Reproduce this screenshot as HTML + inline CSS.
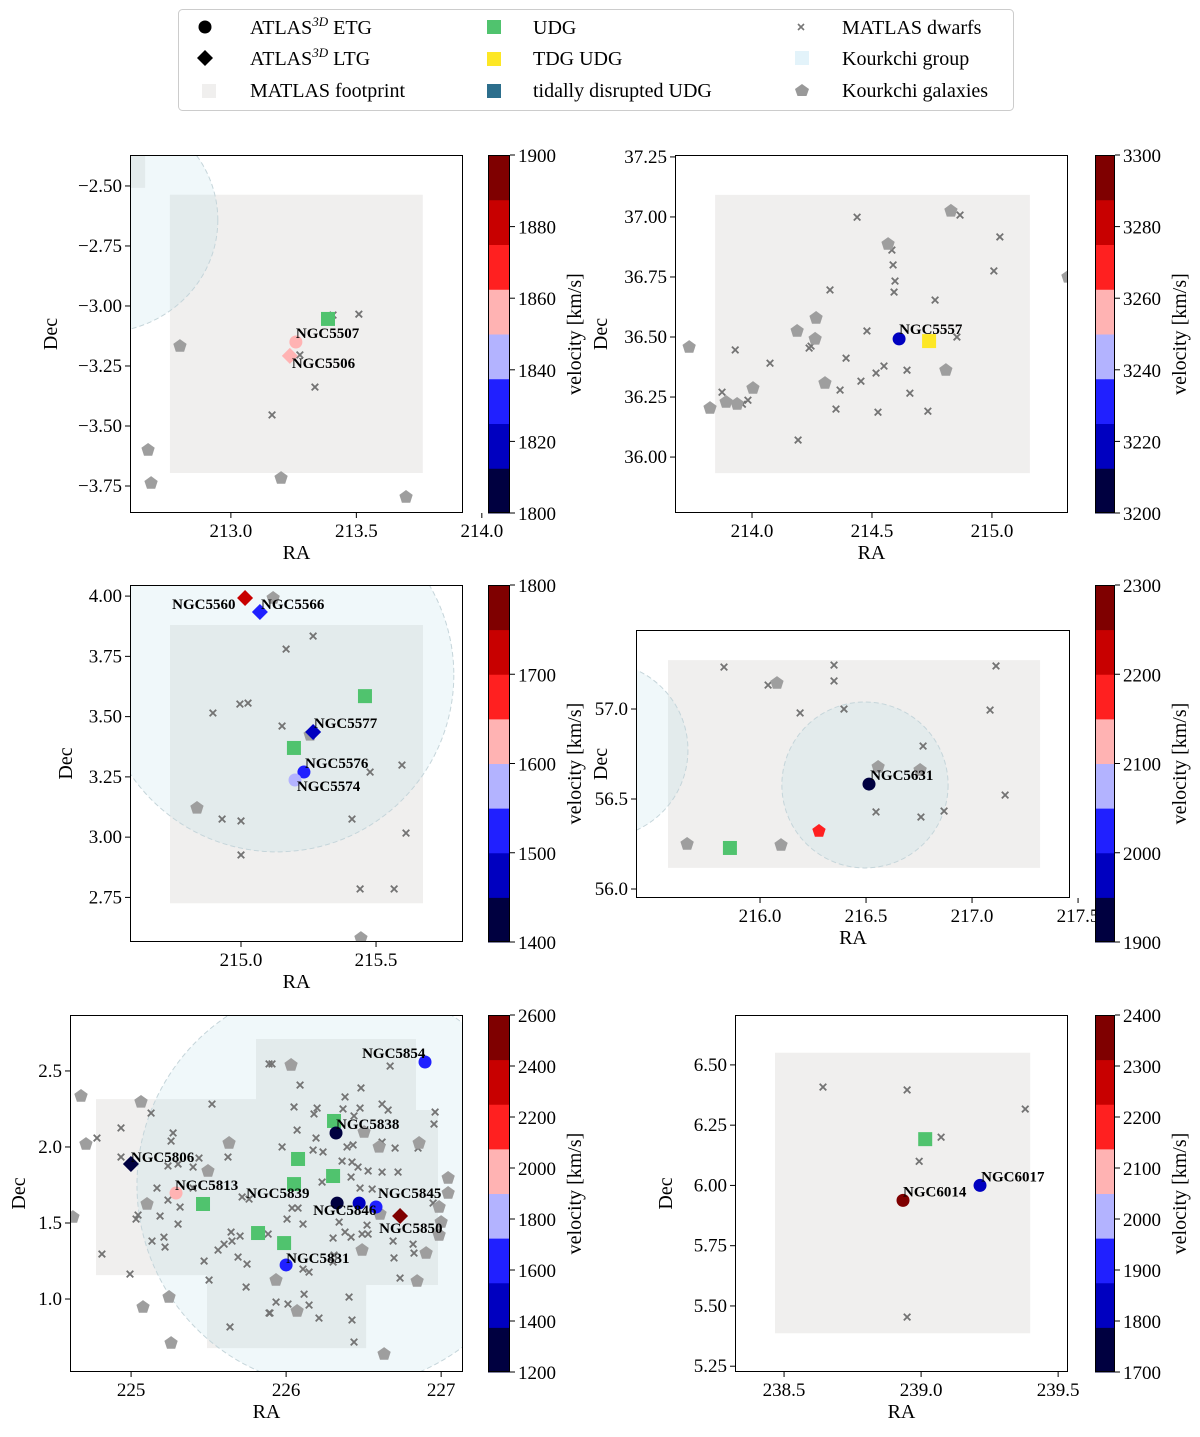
<!DOCTYPE html>
<html><head><meta charset="utf-8">
<style>
html,body{margin:0;padding:0;background:#fff;}
svg{display:block;font-family:"Liberation Serif",serif;}
</style></head>
<body>
<svg id="fig" width="1200" height="1437" viewBox="0 0 1200 1437" xmlns="http://www.w3.org/2000/svg">
<g id="legend">
<rect x="178.5" y="9.5" width="835" height="101" rx="4" fill="#fff" stroke="#ccc"/>
<g><circle cx="205" cy="27" r="6.5" fill="#000"/><text x="250" y="34" font-size="20">ATLAS<tspan font-size="13" dy="-8" font-style="italic">3D</tspan><tspan dy="8"> ETG</tspan></text></g>
<g><path d="M205 50 L213 58 L205 66 L197 58Z" fill="#000"/><text x="250" y="65" font-size="20">ATLAS<tspan font-size="13" dy="-8" font-style="italic">3D</tspan><tspan dy="8"> LTG</tspan></text></g>
<g><rect x="202" y="84" width="14" height="14" fill="#f0efee"/><text x="250" y="97" font-size="20">MATLAS footprint</text></g>
<g><rect x="487" y="20" width="14" height="14" fill="#50c36e"/><text x="533" y="34" font-size="20">UDG</text></g>
<g><rect x="487" y="52" width="14" height="14" fill="#fde725"/><text x="533" y="65" font-size="20">TDG UDG</text></g>
<g><rect x="487" y="84" width="14" height="14" fill="#2c6e8c"/><text x="533" y="97" font-size="20">tidally disrupted UDG</text></g>
<g><path d="M798 24L804 30M798 30L804 24" stroke="#777" stroke-width="1.6"/><text x="842" y="34" font-size="20">MATLAS dwarfs</text></g>
<g><rect x="795" y="51" width="14" height="14" fill="#e3f3fa"/><text x="842" y="65" font-size="20">Kourkchi group</text></g>
<g><path d="M802 84 L809 89 L806.5 96 L797.5 96 L795 89Z" fill="#999"/><text x="842" y="97" font-size="20">Kourkchi galaxies</text></g>
</g>
</svg>
<script>
// ---------- DATA ----------
// Panel 1 (NGC5507 / NGC5506)
const p1Dwarfs=[[213.407,-3.038],[213.510,-3.034],[213.275,-3.204],[213.335,-3.338],[213.164,-3.454]];
const p1Kourkchi=[[212.797,-3.167],[212.670,-3.600],[212.682,-3.738],[213.200,-3.717],[213.698,-3.796]];
const p1UDG=[[213.387,-3.054]];
const p1TDG=[];
const p1ETG=[[213.259,-3.150,1855]];
const p1LTG=[[213.235,-3.208,1855]];
const p1Labels=[["NGC5507",213.259,-3.133],["NGC5506",213.243,-3.258]];
// Panel 2 (NGC5557)
const p2Dwarfs=[[213.875,36.270],[213.93,36.446],[213.96,36.22],[213.983,36.237],[214.075,36.391],[214.238,36.454],[214.325,36.696],[214.35,36.2],[214.367,36.279],[214.392,36.412],[214.438,36.999],[214.454,36.316],[214.517,36.35],[214.525,36.187],[214.55,36.379],[214.583,36.862],[214.588,36.8],[214.596,36.733],[214.592,36.687],[214.479,36.525],[214.646,36.362],[214.658,36.266],[214.733,36.191],[214.763,36.654],[214.854,36.5],[214.867,37.008],[215.008,36.775],[215.033,36.917],[214.192,36.071],[214.246,36.462]];
const p2Kourkchi=[[213.738,36.458],[213.825,36.204],[213.892,36.229],[213.938,36.221],[214.004,36.287],[214.188,36.525],[214.267,36.579],[214.263,36.492],[214.304,36.308],[214.567,36.887],[214.808,36.362],[214.829,37.025],[215.317,36.75]];
const p2UDG=[];
const p2TDG=[[214.738,36.483]];
const p2ETG=[[214.613,36.492,3220]];
const p2LTG=[];
const p2Labels=[["NGC5557",214.613,36.512]];
// Panel 3 (NGC5574/5576/5577)
const p3Dwarfs=[[215.267,3.834],[215.167,3.780],[214.996,3.552],[215.026,3.556],[214.896,3.515],[215.152,3.461],[215.596,3.299],[215.478,3.270],[214.930,3.075],[215.000,3.067],[215.411,3.075],[215.611,3.017],[215.000,2.926],[215.441,2.785],[215.567,2.785]];
const p3Kourkchi=[[214.837,3.121],[215.444,2.581],[215.119,3.992],[215.256,3.424]];
const p3UDG=[[215.459,3.585],[215.196,3.370]];
const p3TDG=[];
const p3ETG=[[215.233,3.270,1520],[215.2,3.237,1570]];
const p3LTG=[[215.015,3.992,1720],[215.070,3.934,1520],[215.267,3.436,1470]];
const p3Labels=[["NGC5560",214.745,3.946],["NGC5566",215.074,3.946],["NGC5577",215.270,3.453],["NGC5576",215.237,3.287],["NGC5574",215.207,3.191]];
// Panel 4 (NGC5631)
const p4Dwarfs=[[215.830,57.233],[216.038,57.133],[216.189,56.978],[216.349,57.244],[216.349,57.156],[216.396,57.0],[216.547,56.428],[216.769,56.794],[216.759,56.4],[216.868,56.433],[217.085,56.994],[217.113,57.239],[217.156,56.522]];
const p4Kourkchi=[[215.656,56.25],[216.08,57.144],[216.099,56.244],[216.557,56.678],[216.755,56.661]];
const p4KourkchiVel=[[216.278,56.322,2180]];
const p4UDG=[[215.858,56.228]];
const p4TDG=[];
const p4ETG=[[216.514,56.583,1910]];
const p4LTG=[];
const p4Labels=[["NGC5631",216.519,56.606]];
// Panel 5 (NGC5846 group)
const p5Dwarfs=[[225.522,2.282],[225.129,2.223],[224.935,2.125],[224.780,2.059],[225.271,2.092],[225.258,2.039],[224.935,1.934],[225.238,1.875],[225.303,1.888],[225.400,1.868],[225.438,1.927],[225.625,1.934],[225.167,1.730],[225.238,1.651],[225.316,1.605],[225.045,1.552],[225.032,1.526],[225.187,1.546],[225.303,1.493],[225.212,1.407],[225.219,1.342],[225.135,1.381],[224.812,1.296],[224.993,1.164],[225.471,1.250],[225.503,1.125],[225.561,1.322],[225.600,1.361],[225.651,1.381],[225.645,1.440],[225.703,1.414],[225.690,1.276],[225.748,1.230],[225.742,1.079],[225.638,0.816],[225.716,1.671],[225.761,1.657],[225.400,1.730],[225.884,1.427],[225.890,0.908],[225.890,2.546],[225.909,2.546],[226.671,2.532],[226.090,2.407],[226.483,2.388],[226.380,2.329],[226.051,2.263],[226.200,2.256],[226.367,2.250],[226.477,2.256],[226.619,2.282],[226.658,2.243],[226.180,2.217],[226.438,2.204],[226.961,2.230],[226.954,2.151],[226.071,2.111],[226.193,2.059],[225.974,2.000],[226.174,1.980],[226.238,1.967],[226.393,2.000],[226.432,2.013],[226.619,2.032],[226.703,1.993],[226.851,1.993],[226.361,1.907],[226.425,1.901],[226.464,1.868],[226.529,1.842],[226.619,1.835],[226.722,1.835],[226.419,1.802],[226.232,1.769],[226.477,1.730],[226.555,1.723],[226.948,1.631],[226.038,1.598],[226.077,1.598],[226.006,1.526],[226.109,1.493],[226.342,1.506],[226.380,1.440],[226.522,1.486],[226.490,1.427],[226.529,1.427],[226.419,1.407],[226.303,1.401],[226.690,1.381],[226.819,1.361],[226.825,1.302],[226.696,1.270],[226.109,1.197],[226.148,1.177],[226.303,1.243],[226.309,1.289],[226.735,1.138],[226.116,1.032],[225.935,0.980],[226.012,0.967],[226.148,0.960],[226.406,1.013],[225.896,0.908],[226.212,0.875],[226.425,0.862],[226.438,0.717]];
const p5Kourkchi=[[224.677,2.335],[225.064,2.296],[224.709,2.019],[225.632,2.026],[225.496,1.842],[225.103,1.625],[224.625,1.539],[225.245,1.013],[225.077,0.947],[225.258,0.710],[226.032,2.539],[226.503,2.098],[226.600,2.000],[226.858,2.026],[227.045,1.796],[227.045,1.697],[226.987,1.605],[227.000,1.506],[226.987,1.421],[226.903,1.302],[226.845,1.118],[226.490,1.322],[226.606,1.559],[225.935,1.125],[226.071,0.921],[226.632,0.638]];
const p5UDG=[[225.464,1.625],[225.819,1.434],[226.309,2.171],[226.077,1.921],[226.303,1.809],[226.051,1.756],[225.987,1.368]];
const p5TDG=[];
const p5ETG=[[225.290,1.697,1950],[226.896,2.559,1650],[226.322,2.092,1250],[226.329,1.631,1250],[226.471,1.631,1450],[226.580,1.605,1600],[226.000,1.224,1650]];
const p5LTG=[[224.999,1.888,1250],[226.735,1.546,2500]];
const p5Labels=[["NGC5806",224.999,1.901],["NGC5813",225.283,1.717],["NGC5839",225.742,1.664],["NGC5838",226.322,2.118],["NGC5854",226.490,2.585],["NGC5846",226.174,1.552],["NGC5845",226.593,1.664],["NGC5850",226.600,1.434],["NGC5831",226.0,1.237]];
// Panel 6 (NGC6014/6017)
const p6Dwarfs=[[238.642,6.408],[238.949,6.396],[239.073,6.2],[238.993,6.1],[239.380,6.317],[238.949,5.454]];
const p6Kourkchi=[];
const p6UDG=[[239.015,6.192]];
const p6TDG=[];
const p6ETG=[[238.934,5.938,2380],[239.215,6.0,1850]];
const p6LTG=[];
const p6Labels=[["NGC6014",238.934,5.954],["NGC6017",239.219,6.017]];
// Colorbar ranges and ticks
const p1VelRange=[1800,1900]; const p1VelTicks=[1800,1820,1840,1860,1880,1900];
const p2VelRange=[3200,3300]; const p2VelTicks=[3200,3220,3240,3260,3280,3300];
const p3VelRange=[1400,1800]; const p3VelTicks=[1400,1500,1600,1700,1800];
const p4VelRange=[1900,2300]; const p4VelTicks=[1900,2000,2100,2200,2300];
const p5VelRange=[1200,2600]; const p5VelTicks=[1200,1400,1600,1800,2000,2200,2400,2600];
const p6VelRange=[1700,2400]; const p6VelTicks=[1700,1800,1900,2000,2100,2200,2300,2400];
// Axis ranges and ticks
const p1RA=[212.598,213.925], p1Dec=[-3.8625,-2.371], p1RATicks=[213.0,213.5,214.0], p1DecTicks=[-2.5,-2.75,-3.0,-3.25,-3.5,-3.75];
const p2RA=[213.679,215.317], p2Dec=[35.767,37.258], p2RATicks=[214.0,214.5,215.0], p2DecTicks=[36.0,36.25,36.5,36.75,37.0,37.25];
const p3RA=[214.589,215.822], p3Dec=[2.565,4.046], p3RATicks=[215.0,215.5], p3DecTicks=[2.75,3.0,3.25,3.5,3.75,4.0];
const p4RA=[215.415,217.462], p4Dec=[55.950,57.439], p4RATicks=[216.0,216.5,217.0,217.5], p4DecTicks=[56.0,56.5,57.0];
const p5RA=[224.606,227.141], p5Dec=[0.520,2.868], p5RATicks=[225,226,227], p5DecTicks=[1.0,1.5,2.0,2.5];
const p6RA=[238.321,239.536], p6Dec=[5.226,6.707], p6RATicks=[238.5,239.0,239.5], p6DecTicks=[5.25,5.5,5.75,6.0,6.25,6.5];
// Footprints (polygons in RA/Dec) and groups [ra, dec, rRA, rDec]
const p1Foot=[[[212.757,-2.537],[213.765,-2.537],[213.765,-3.696],[212.757,-3.696]],[[212.5,-2.371],[212.658,-2.371],[212.658,-2.508],[212.5,-2.508]]];
const p1Group=[[212.478,-2.642,0.47,0.47]];
const p2Foot=[[[213.846,37.092],[215.158,37.092],[215.158,35.933],[213.846,35.933]]];
const p2Group=[];
const p3Foot=[[[214.737,3.880],[215.674,3.880],[215.674,2.726],[214.737,2.726]]];
const p3Group=[[215.133,3.673,0.655,0.734]];
const p4Foot=[[[215.566,57.272],[217.321,57.272],[217.321,56.117],[215.566,56.117]]];
const p4Group=[[216.495,56.578,0.392,0.461],[215.245,56.772,0.415,0.489]];
const p5Foot=[[[224.774,2.315],[225.806,2.315],[225.806,2.710],[226.838,2.710],[226.838,2.243],[226.980,2.243],[226.980,1.092],[226.516,1.092],[226.516,0.677],[225.490,0.677],[225.490,1.157],[224.774,1.157]]];
const p5Group=[[226.348,1.750,1.31,1.336]];
const p6Foot=[[[238.467,6.55],[239.398,6.55],[239.398,5.387],[238.467,5.387]]];
const p6Group=[];

// ---------- DRAWING ----------
const NS='http://www.w3.org/2000/svg';
const fig=document.getElementById('fig');
const BANDS=['#000040','#0000c0','#2020ff','#b3b3ff','#ffb3b3','#ff2020','#c80000','#7f0000'];
function mk(tag,attrs,parent){const e=document.createElementNS(NS,tag);for(const k in attrs)e.setAttribute(k,attrs[k]);(parent||fig).appendChild(e);return e;}
function velColor(v,r){let i=Math.floor((v-r[0])/(r[1]-r[0])*8);i=Math.max(0,Math.min(7,i));return BANDS[i];}
function fmt(v,d){const s=v.toFixed(d);return v<0?'\u2212'+s.slice(1):s;}
function pent(cx,cy,r){let p=[];for(let i=0;i<5;i++){const a=-Math.PI/2+i*2*Math.PI/5;p.push((cx+r*Math.cos(a)).toFixed(1)+','+(cy+r*Math.sin(a)).toFixed(1));}return p.join(' ');}

function panel(id,box,ra,dec,raT,decT,raDec,decDec,foot,groups,dwarfs,kour,kourVel,udg,tdg,etg,ltg,labels,vr,vt,cbx,cbTitleX,decTitleX){
  const [x0,y0,x1,y1]=box;
  const sx=v=>x0+(v-ra[0])/(ra[1]-ra[0])*(x1-x0);
  const sy=v=>y1-(v-dec[0])/(dec[1]-dec[0])*(y1-y0);
  const kx=(x1-x0)/(ra[1]-ra[0]), ky=(y1-y0)/(dec[1]-dec[0]);
  const g=mk('g',{});
  
  
  const cp=mk('clipPath',{id:id+'-clip'},g);mk('rect',{x:x0,y:y0,width:x1-x0,height:y1-y0},cp);
  const plot=mk('g',{'clip-path':'url(#'+id+'-clip)'},g);
  
  
  foot.forEach(poly=>{const e=mk('polygon',{points:poly.map(p=>sx(p[0]).toFixed(1)+','+sy(p[1]).toFixed(1)).join(' '),fill:'#f0efee'},plot);
    
    });
  groups.forEach(c=>{const e=mk('ellipse',{cx:sx(c[0]),cy:sy(c[1]),rx:c[2]*kx,ry:c[3]*ky,fill:'rgba(173,216,230,0.18)',stroke:'#c5d5da','stroke-dasharray':'5,3','stroke-width':1},plot);
    
    });
  dwarfs.forEach(d=>{const cx=sx(d[0]),cy=sy(d[1]);const e=mk('path',{d:`M${cx-3.3} ${cy-3.3}L${cx+3.3} ${cy+3.3}M${cx-3.3} ${cy+3.3}L${cx+3.3} ${cy-3.3}`,stroke:'#737373','stroke-width':1.8},plot);
    
    });
  kour.forEach(d=>{const e=mk('polygon',{points:pent(sx(d[0]),sy(d[1]),7),fill:'#9e9e9e'},plot);
    
    });
  kourVel.forEach(d=>{const e=mk('polygon',{points:pent(sx(d[0]),sy(d[1]),7),fill:velColor(d[2],vr)},plot);
    
    });
  udg.forEach(d=>{const e=mk('rect',{x:sx(d[0])-7,y:sy(d[1])-7,width:14,height:14,fill:'#50c36e'},plot);
    
    });
  tdg.forEach(d=>{const e=mk('rect',{x:sx(d[0])-7,y:sy(d[1])-7,width:14,height:14,fill:'#fde725'},plot);
    
    });
  ltg.forEach(d=>{const cx=sx(d[0]),cy=sy(d[1]);const e=mk('path',{d:`M${cx} ${cy-8}L${cx+8} ${cy}L${cx} ${cy+8}L${cx-8} ${cy}Z`,fill:velColor(d[2],vr)},plot);
    
    });
  etg.forEach(d=>{const e=mk('circle',{cx:sx(d[0]),cy:sy(d[1]),r:6.5,fill:velColor(d[2],vr)},plot);
    
    });
  labels.forEach(l=>{const e=mk('text',{x:sx(l[1]),y:sy(l[2]),'font-size':15,'font-weight':'bold',fill:'#000'},plot);e.textContent=l[0];
    
    });
  const fr=mk('rect',{x:x0+0.5,y:y0+0.5,width:x1-x0-1,height:y1-y0-1,fill:'none',stroke:'#000','stroke-width':1},g);
  
  
  raT.forEach(t=>{const x=sx(t);mk('line',{x1:x,x2:x,y1:y1,y2:y1+5,stroke:'#000'},g);
    const e=mk('text',{x:x,y:y1+24,'font-size':19,'text-anchor':'middle'},g);e.textContent=fmt(t,raDec);
    
    });
  decT.forEach(t=>{const y=sy(t);mk('line',{x1:x0-5,x2:x0,y1:y,y2:y,stroke:'#000'},g);
    const e=mk('text',{x:x0-8,y:y+6,'font-size':19,'text-anchor':'end'},g);e.textContent=fmt(t,decDec);
    
    });
  const xt=mk('text',{x:(x0+x1)/2,y:y1+46,'font-size':20,'text-anchor':'middle'},g);xt.textContent='RA';
  
  
  const ytx=decTitleX+7;
  const yt=mk('text',{x:ytx,y:(y0+y1)/2,'font-size':20,'text-anchor':'middle',transform:`rotate(-90 ${ytx} ${(y0+y1)/2})`},g);yt.textContent='Dec';
  
  
  // colorbar
  const [cx0,cy0,cx1,cy1]=cbx;
  const cb=mk('g',{},g);
  
  
  const bh=(cy1-cy0)/8;
  BANDS.forEach((c,i)=>{mk('rect',{x:cx0,y:cy1-(i+1)*bh,width:cx1-cx0,height:bh+0.5,fill:c},cb);});
  mk('rect',{x:cx0+0.5,y:cy0+0.5,width:cx1-cx0-1,height:cy1-cy0-1,fill:'none',stroke:'#000'},cb);
  vt.forEach(v=>{const y=cy1-(v-vr[0])/(vr[1]-vr[0])*(cy1-cy0);mk('line',{x1:cx1,x2:cx1+5,y1:y,y2:y,stroke:'#000'},cb);
    const e=mk('text',{x:cx1+8,y:y+7,'font-size':19},cb);e.textContent=String(v);
    
    });
  const cyc=(cy0+cy1)/2;
  const ct=mk('text',{x:cbTitleX,y:cyc,'font-size':20,'text-anchor':'middle',transform:`rotate(-90 ${cbTitleX} ${cyc})`},cb);ct.textContent='velocity [km/s]';
  
  
}
panel('panel-ngc5507',[130,155,463,513],p1RA,p1Dec,p1RATicks,p1DecTicks,1,2,p1Foot,p1Group,p1Dwarfs,p1Kourkchi,[],p1UDG,p1TDG,p1ETG,p1LTG,p1Labels,p1VelRange,p1VelTicks,[488,155,510,513],581,50);
panel('panel-ngc5557',[675,155,1068,513],p2RA,p2Dec,p2RATicks,p2DecTicks,1,2,p2Foot,p2Group,p2Dwarfs,p2Kourkchi,[],p2UDG,p2TDG,p2ETG,p2LTG,p2Labels,p2VelRange,p2VelTicks,[1095,155,1115,513],1186,600);
panel('panel-ngc5576',[130,585,463,942],p3RA,p3Dec,p3RATicks,p3DecTicks,1,2,p3Foot,p3Group,p3Dwarfs,p3Kourkchi,[],p3UDG,p3TDG,p3ETG,p3LTG,p3Labels,p3VelRange,p3VelTicks,[488,585,510,942],581,65);
panel('panel-ngc5631',[636,630,1070,898],p4RA,p4Dec,p4RATicks,p4DecTicks,1,1,p4Foot,p4Group,p4Dwarfs,p4Kourkchi,p4KourkchiVel,p4UDG,p4TDG,p4ETG,p4LTG,p4Labels,p4VelRange,p4VelTicks,[1095,585,1115,942],1186,600);
panel('panel-ngc5846',[70,1015,463,1372],p5RA,p5Dec,p5RATicks,p5DecTicks,0,1,p5Foot,p5Group,p5Dwarfs,p5Kourkchi,[],p5UDG,p5TDG,p5ETG,p5LTG,p5Labels,p5VelRange,p5VelTicks,[488,1015,510,1372],581,18);
panel('panel-ngc6014',[735,1015,1068,1372],p6RA,p6Dec,p6RATicks,p6DecTicks,1,2,p6Foot,p6Group,p6Dwarfs,p6Kourkchi,[],p6UDG,p6TDG,p6ETG,p6LTG,p6Labels,p6VelRange,p6VelTicks,[1095,1015,1115,1372],1186,665);
</script>
</body></html>
